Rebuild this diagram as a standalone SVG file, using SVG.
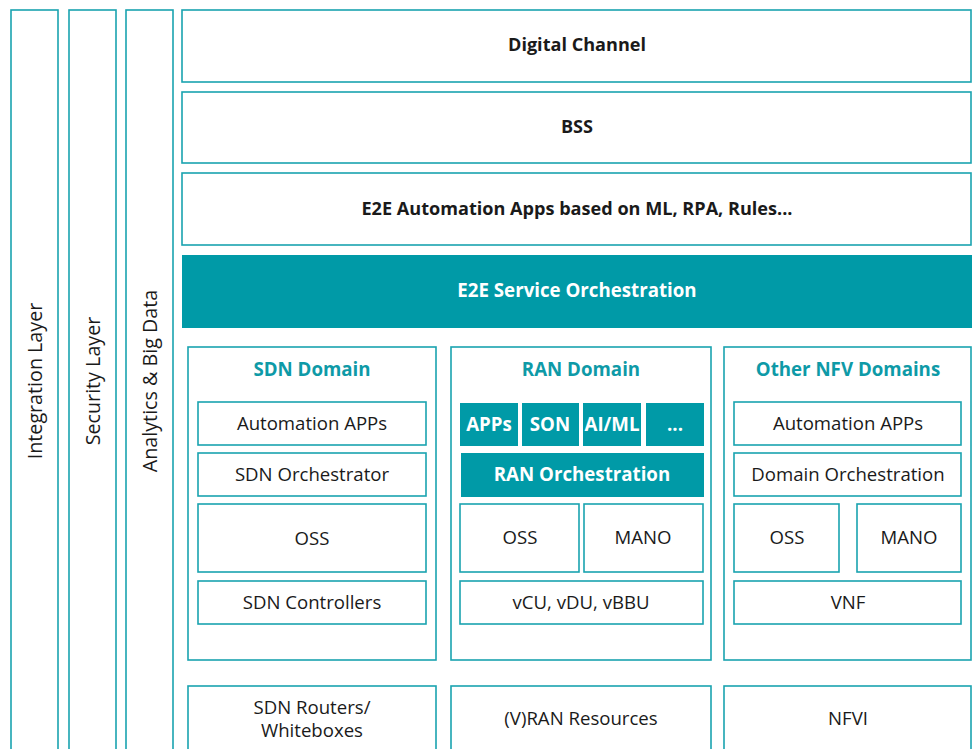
<svg xmlns="http://www.w3.org/2000/svg" width="977" height="749" viewBox="0 0 977 749">
<style>
.b{fill:#fff;stroke:#1AA3B0;stroke-width:1.6}
.f{fill:#009AA7;stroke:none}
text{font-family:"Open Sans","Noto Sans",sans-serif;text-anchor:middle;dominant-baseline:central}
.t{font-size:18.6px;fill:#1a1a1a}
.v{font-size:19.7px;fill:#1a1a1a}
.tb{font-size:18.1px;font-weight:bold;fill:#1a1a1a}
.w{font-size:18.7px;font-weight:bold;fill:#fff}
.h{font-size:18.7px;font-weight:bold;fill:#0E9AA7}
</style>
<rect width="977" height="749" fill="#fff"/>
<g id="integration"><rect class="b" x="11" y="10" width="47" height="750"/><text class="v" transform="translate(34,381) rotate(-90)">Integration Layer</text></g>
<g id="security"><rect class="b" x="69" y="10" width="47" height="750"/><text class="v" transform="translate(92,381) rotate(-90)">Security Layer</text></g>
<g id="analytics"><rect class="b" x="126" y="10" width="47" height="750"/><text class="v" transform="translate(149,381) rotate(-90)">Analytics &amp; Big Data</text></g>
<g id="digital"><rect class="b" x="182" y="10" width="789" height="72"/><text class="tb" x="577" y="44">Digital Channel</text></g>
<g id="bss"><rect class="b" x="182" y="92" width="789" height="71"/><text class="tb" x="577" y="126">BSS</text></g>
<g id="e2eapps"><rect class="b" x="182" y="173" width="789" height="72"/><text class="tb" x="577" y="208">E2E Automation Apps based on ML, RPA, Rules...</text></g>
<g id="e2eorch"><rect class="f" x="182" y="255" width="790" height="73"/><text class="w" x="577" y="289">E2E Service Orchestration</text></g>
<g id="sdn">
<rect class="b" x="188" y="347" width="248" height="313"/><text class="h" x="312" y="368">SDN Domain</text>
<rect class="b" x="198" y="402" width="228" height="43"/><text class="t" x="312" y="422">Automation APPs</text>
<rect class="b" x="198" y="453" width="228" height="43"/><text class="t" x="312" y="473">SDN Orchestrator</text>
<rect class="b" x="198" y="504" width="228" height="68"/><text class="t" x="312" y="537">OSS</text>
<rect class="b" x="198" y="581" width="228" height="43"/><text class="t" x="312" y="601">SDN Controllers</text>
</g>
<g id="ran">
<rect class="b" x="451" y="347" width="260" height="313"/><text class="h" x="581" y="368">RAN Domain</text>
<rect class="f" x="460" y="403" width="58" height="43"/><text class="w" x="489" y="423">APPs</text>
<rect class="f" x="522" y="403" width="57" height="43"/><text class="w" x="550" y="423">SON</text>
<rect class="f" x="583" y="403" width="58" height="43"/><text class="w" x="612" y="423">AI/ML</text>
<rect class="f" x="646" y="403" width="58" height="43"/><text class="w" x="675" y="423">...</text>
<rect class="f" x="461" y="453" width="243" height="44"/><text class="w" x="582" y="473">RAN Orchestration</text>
<rect class="b" x="460" y="504" width="119" height="68"/><text class="t" x="520" y="536">OSS</text>
<rect class="b" x="584" y="504" width="119" height="68"/><text class="t" x="643" y="536">MANO</text>
<rect class="b" x="460" y="581" width="243" height="43"/><text class="t" x="581" y="601">vCU, vDU, vBBU</text>
</g>
<g id="nfv">
<rect class="b" x="724" y="347" width="247" height="313"/><text class="h" x="848" y="368">Other NFV Domains</text>
<rect class="b" x="734" y="402" width="227" height="43"/><text class="t" x="848" y="422">Automation APPs</text>
<rect class="b" x="734" y="453" width="227" height="43"/><text class="t" x="848" y="473">Domain Orchestration</text>
<rect class="b" x="734" y="504" width="105" height="68"/><text class="t" x="787" y="536">OSS</text>
<rect class="b" x="857" y="504" width="104" height="68"/><text class="t" x="909" y="536">MANO</text>
<rect class="b" x="734" y="581" width="227" height="43"/><text class="t" x="848" y="601">VNF</text>
</g>
<g id="sdnres"><rect class="b" x="188" y="686" width="248" height="80"/><text class="t" x="312" y="706">SDN Routers/</text><text class="t" x="312" y="729">Whiteboxes</text></g>
<g id="ranres"><rect class="b" x="451" y="686" width="260" height="80"/><text class="t" x="581" y="717">(V)RAN Resources</text></g>
<g id="nfvi"><rect class="b" x="724" y="686" width="247" height="80"/><text class="t" x="848" y="717">NFVI</text></g>
<g id="connectors"></g>
</svg>
